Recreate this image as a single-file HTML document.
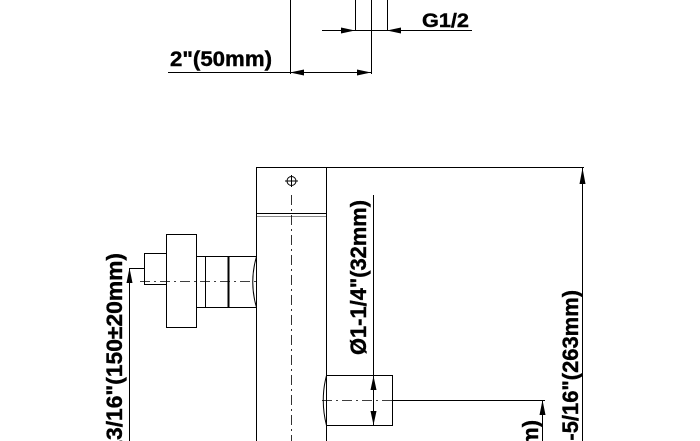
<!DOCTYPE html>
<html><head><meta charset="utf-8"><style>
html,body{margin:0;padding:0;background:#fff;width:700px;height:441px;overflow:hidden;}
svg{display:block}
text{font-family:"Liberation Sans",sans-serif;font-weight:bold;fill:#000;stroke:#000;stroke-width:0.4}
</style></head><body>
<svg width="700" height="441" viewBox="0 0 700 441" xmlns="http://www.w3.org/2000/svg">
<g stroke="#000" stroke-width="1" fill="none">
<line x1="290.5" y1="0" x2="290.5" y2="74"/>
<line x1="371.5" y1="0" x2="371.5" y2="74"/>
<line x1="355.5" y1="0" x2="355.5" y2="31"/>
<line x1="387.5" y1="0" x2="387.5" y2="31"/>
<line x1="322" y1="30.5" x2="472" y2="30.5"/>
<line x1="168" y1="72.5" x2="371" y2="72.5"/>
<rect x="256.5" y="167.5" width="70" height="46"/>
<line x1="256.5" y1="214" x2="256.5" y2="441"/>
<line x1="326.5" y1="214" x2="326.5" y2="441"/>
<line x1="257" y1="216.5" x2="326" y2="216.5" stroke="#888"/>
<line x1="291.5" y1="195" x2="291.5" y2="441" stroke-dasharray="10,4,2,4" stroke-width="0.8"/>
<circle cx="291.5" cy="181" r="4.5"/>
<line x1="285" y1="181" x2="298" y2="181"/>
<line x1="291.5" y1="175" x2="291.5" y2="187"/>
<line x1="326" y1="167.5" x2="584" y2="167.5"/>
<line x1="582.5" y1="167" x2="582.5" y2="441"/>
<rect x="144.5" y="253.5" width="22" height="31"/>
<rect x="166.5" y="234.5" width="30" height="93"/>
<path d="M196.5 256.5 H256.5 M196.5 307.5 H256.5"/>
<path d="M256.5 256.5 Q249 282 256.5 307.5"/>
<line x1="205.5" y1="256.5" x2="205.5" y2="307.5"/>
<line x1="228.5" y1="256.5" x2="228.5" y2="307.5" stroke-width="2"/>
<line x1="140" y1="281.5" x2="256" y2="281.5" stroke-dasharray="10,4,2,4" stroke-width="0.8"/>
<line x1="129.5" y1="268.5" x2="144" y2="268.5"/>
<line x1="129.5" y1="268" x2="129.5" y2="441"/>
<path d="M326.5 375.5 H392.5 V425.5 H326.5"/>
<path d="M326.5 375.5 Q320 400 326.5 425.5"/>
<line x1="322" y1="400.5" x2="392" y2="400.5" stroke-dasharray="10,4,2,4" stroke-width="0.8"/>
<line x1="392" y1="400.5" x2="545" y2="400.5"/>
<line x1="373.5" y1="195" x2="373.5" y2="426"/>
<line x1="542.5" y1="400" x2="542.5" y2="441"/>
</g>
<g fill="#000">
<polygon points="355,30.5 341,27.5 341,33.5"/>
<polygon points="387,30.5 401,27.5 401,33.5"/>
<polygon points="290,72.5 304,69.5 304,75.5"/>
<polygon points="371,72.5 357,69.5 357,75.5"/>
<polygon points="582.5,168 579.5,184 585.5,184"/>
<polygon points="129.5,268 126.5,283 132.5,283"/>
<polygon points="542.5,400 539.5,415 545.5,415"/>
<polygon points="373.5,376 370.5,390 376.5,390"/>
<polygon points="373.5,425 370.5,411 376.5,411"/>
</g>
<text x="422" y="27" font-size="19" textLength="47" lengthAdjust="spacingAndGlyphs">G1/2</text>
<text x="170" y="66" font-size="21" textLength="102" lengthAdjust="spacingAndGlyphs">2"(50mm)</text>
<text transform="translate(122,253) rotate(-90)" text-anchor="end" font-size="22" textLength="220" lengthAdjust="spacingAndGlyphs">5-13/16"(150±20mm)</text>
<text transform="translate(366,355) rotate(-90)" font-size="22" textLength="155" lengthAdjust="spacingAndGlyphs">Ø1-1/4"(32mm)</text>
<text transform="translate(578,290) rotate(-90)" text-anchor="end" font-size="22" textLength="175" lengthAdjust="spacingAndGlyphs">10-5/16"(263mm)</text>
<text transform="translate(538,420) rotate(-90)" text-anchor="end" font-size="22" textLength="155" lengthAdjust="spacingAndGlyphs">Ø1-1/4"(32mm)</text>
</svg>
</body></html>
